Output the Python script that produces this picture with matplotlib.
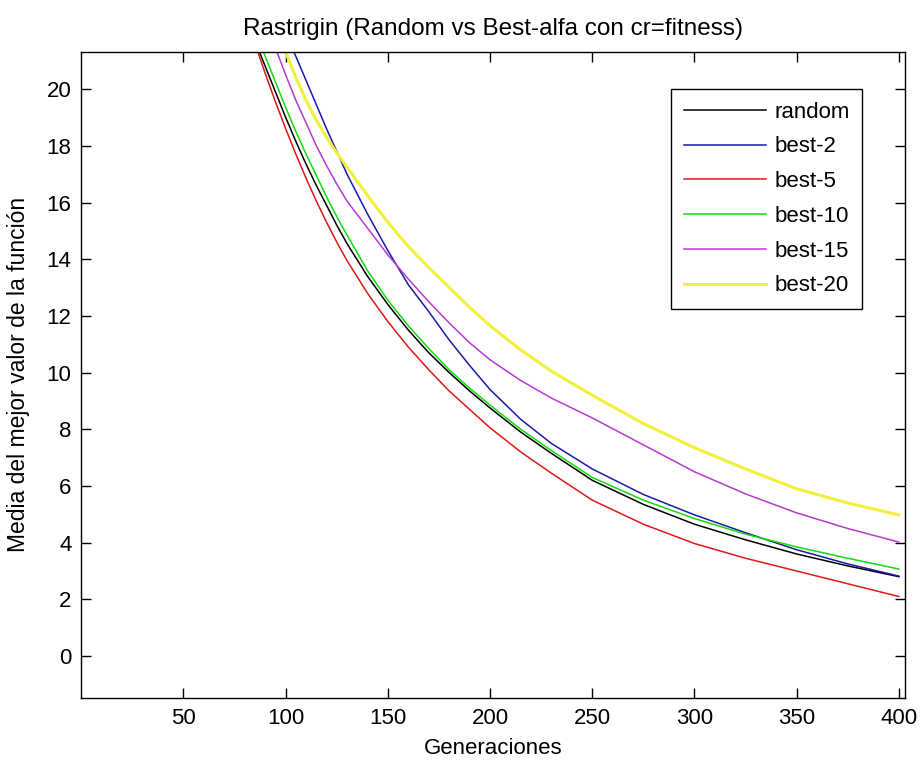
import matplotlib
matplotlib.use('Agg')
import matplotlib.pyplot as plt

# ==========================================
# Datos (media del mejor valor por generacion)
# ==========================================
generaciones = [80, 85, 90, 95, 100, 105, 110, 115, 120, 125, 130, 140, 150,
                160, 170, 180, 190, 200, 215, 230, 250, 275, 300, 325, 350, 375, 400]

random_ = [22.6, 21.7, 20.8, 19.9, 19.0, 18.15, 17.35, 16.6, 15.9, 15.2, 14.55, 13.4, 12.4,
           11.5, 10.7, 10.0, 9.35, 8.75, 7.9, 7.15, 6.2, 5.35, 4.65, 4.1, 3.6, 3.18, 2.8]
best_2 = [25.2, 24.4, 23.6, 22.8, 21.95, 21.15, 20.3, 19.45, 18.6, 17.8, 17.0, 15.6, 14.3,
          13.1, 12.15, 11.15, 10.25, 9.4, 8.35, 7.5, 6.6, 5.7, 4.98, 4.35, 3.75, 3.25, 2.82]
best_5 = [22.7, 21.6, 20.55, 19.55, 18.6, 17.7, 16.85, 16.05, 15.3, 14.6, 13.95, 12.8, 11.8,
          10.9, 10.1, 9.35, 8.7, 8.05, 7.2, 6.45, 5.5, 4.65, 3.97, 3.45, 3.0, 2.55, 2.1]
best_10 = [23.0, 22.1, 21.15, 20.25, 19.35, 18.5, 17.7, 16.95, 16.2, 15.5, 14.85, 13.6, 12.55,
           11.65, 10.85, 10.1, 9.45, 8.85, 8.0, 7.25, 6.3, 5.5, 4.85, 4.3, 3.85, 3.45, 3.07]
best_15 = [24.3, 23.35, 22.4, 21.45, 20.5, 19.6, 18.8, 18.0, 17.3, 16.65, 16.05, 15.1, 14.15,
           13.3, 12.5, 11.75, 11.05, 10.45, 9.72, 9.1, 8.4, 7.45, 6.5, 5.72, 5.05, 4.5, 4.02]
best_20 = [24.9, 24.0, 23.1, 22.2, 21.3, 20.4, 19.6, 18.9, 18.3, 17.75, 17.25, 16.25, 15.3,
           14.45, 13.7, 13.0, 12.3, 11.65, 10.8, 10.05, 9.2, 8.2, 7.35, 6.6, 5.9, 5.4, 4.98]

etiquetas = ['random', 'best-2', 'best-5', 'best-10', 'best-15', 'best-20']
colores = ['black', '#1a1aa8', '#e01818', '#10dd10', '#b83ad0', '#f2f03a']

plt.rcParams['font.family'] = ['Liberation Sans', 'DejaVu Sans']
tam = 16

fig = plt.figure(figsize=(9.24, 7.65), dpi=100)
ax = fig.add_axes([81.3 / 924, 1 - 698 / 765, 823.7 / 924, 646.3 / 765])

series = [random_, best_2, best_5, best_10, best_15, best_20]
for valores, etiqueta, color in zip(series, etiquetas, colores):
    lw = 2.2 if etiqueta == 'best-20' else 1.1
    ax.plot(generaciones, valores, color=color, linewidth=lw, label=etiqueta)

ax.set_xlim(0, 403)
ax.set_ylim(-1.48, 21.32)
ax.set_xticks(range(50, 401, 50))
ax.set_yticks(range(0, 21, 2))
ax.tick_params(direction='in', top=True, right=True, length=7, width=1,
               labelsize=tam, pad=7)
for s in ax.spines.values():
    s.set_linewidth(1.0)

ax.set_title('Rastrigin (Random vs Best-alfa con cr=fitness)', fontsize=17.5, pad=12)
ax.set_xlabel('Generaciones', fontsize=tam)
ax.set_ylabel('Media del mejor valor de la función', fontsize=16.5)
ax.xaxis.set_label_coords(0.5, -0.062)
ax.yaxis.set_label_coords(-0.062, 0.5)

# Leyenda en la esquina superior derecha, marco negro recto
leg = ax.legend(loc='upper right', bbox_to_anchor=(0.9474, 0.9418), borderaxespad=0,
                fontsize=tam, fancybox=False, framealpha=1, edgecolor='black',
                handlelength=3.7, labelspacing=0.62, handletextpad=0.37, borderpad=0.55)
leg.get_frame().set_linewidth(1.0)

fig.savefig('out.png', dpi=100, facecolor='white')
